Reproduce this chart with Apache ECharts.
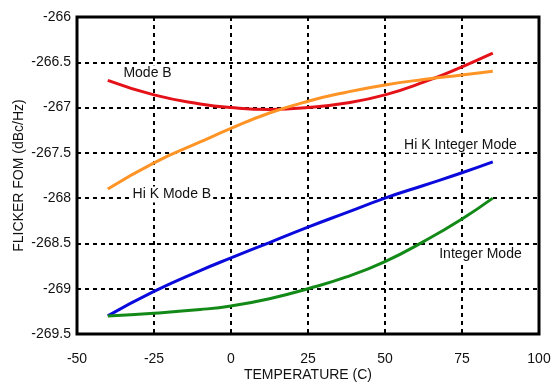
<!DOCTYPE html>
<html>
<head>
<meta charset="utf-8">
<script src="https://cdn.jsdelivr.net/npm/echarts@6/dist/echarts.min.js"></script>
<style>
  html, body { margin: 0; padding: 0; background: #fff; }
  #chart { width: 552px; height: 384px; }
</style>
</head>
<body>
<div id="chart"></div>
<script>
// Temperatures (C) at which each curve is sampled
const temps = [-40, -25, -10, 0, 12.5, 25, 37.5, 50, 62.5, 75, 85];

// Flicker FOM (dBc/Hz) per mode
const modeB        = [-266.7, -266.86, -266.96, -267.0, -267.02, -267.0, -266.95, -266.86, -266.72, -266.55, -266.4];
const hiKModeB     = [-267.9, -267.61, -267.38, -267.23, -267.06, -266.93, -266.83, -266.75, -266.69, -266.64, -266.6];
const hiKInteger   = [-269.3, -269.03, -268.8, -268.66, -268.49, -268.32, -268.16, -268.0, -267.86, -267.72, -267.6];
const integerMode  = [-269.3, -269.27, -269.23, -269.19, -269.11, -269.0, -268.87, -268.7, -268.48, -268.23, -268.0];

// Curve names and where their captions sit (temperature, FOM)
const seriesNames = ['Mode B', 'Hi K Mode B', 'Hi K Integer Mode', 'Integer Mode'];
const labelAt = [[-27.1, -266.62], [-19.2, -267.96], [74.5, -267.41], [81, -268.62]];
const colors = ['#e41218', '#ff9426', '#0a0adc', '#138a17'];

const xTicks = { min: -50, max: 100, interval: 25 };
const yTicks = { min: -269.5, max: -266, interval: 0.5 };

const values = [modeB, hiKModeB, hiKInteger, integerMode];

const chart = echarts.init(document.getElementById('chart'), null, { renderer: 'canvas' });

const font = 'Liberation Sans, Arial, Helvetica, sans-serif';
const dashed = { color: '#000', width: 2, type: [4, 4] };

chart.setOption({
  animation: false,
  backgroundColor: '#fff',
  textStyle: { fontFamily: font },
  grid: {
    left: 77, right: 13, top: 17, bottom: 50,
    outerBoundsMode: 'none',
    containLabel: false,
    show: true, borderColor: '#000', borderWidth: 3, backgroundColor: 'transparent'
  },
  xAxis: {
    type: 'value',
    min: xTicks.min, max: xTicks.max, interval: xTicks.interval,
    name: 'TEMPERATURE (C)', nameLocation: 'middle', nameGap: 34,
    nameMoveOverlap: false,
    nameTextStyle: { color: '#111', fontSize: 14, fontFamily: font },
    axisLine: { show: false },
    axisTick: { show: false },
    axisLabel: { color: '#111', fontSize: 14, margin: 18, fontFamily: font },
    splitLine: { show: true, lineStyle: dashed }
  },
  yAxis: {
    type: 'value',
    min: yTicks.min, max: yTicks.max, interval: yTicks.interval,
    name: 'FLICKER FOM (dBc/Hz)', nameLocation: 'middle', nameGap: 51,
    nameMoveOverlap: false,
    nameTextStyle: { color: '#111', fontSize: 14, fontFamily: font },
    axisLine: { show: false },
    axisTick: { show: false },
    axisLabel: { color: '#111', fontSize: 14, margin: 6, fontFamily: font },
    splitLine: { show: true, lineStyle: dashed }
  },
  series: seriesNames.map((name, i) => ({
    name: name,
    type: 'line',
    smooth: true,
    symbol: 'none',
    z: 3,
    lineStyle: { color: colors[i], width: 3 },
    data: temps.map((t, k) => [t, values[i][k]]),
    markPoint: {
      symbol: 'rect',
      symbolSize: 0,
      silent: true,
      data: [{ coord: labelAt[i] }],
      label: {
        show: true,
        position: 'inside',
        formatter: name,
        color: '#111',
        fontSize: 14,
        fontFamily: font,
        backgroundColor: '#fff',
        padding: [1, 2]
      }
    }
  }))
});
</script>
</body>
</html>
